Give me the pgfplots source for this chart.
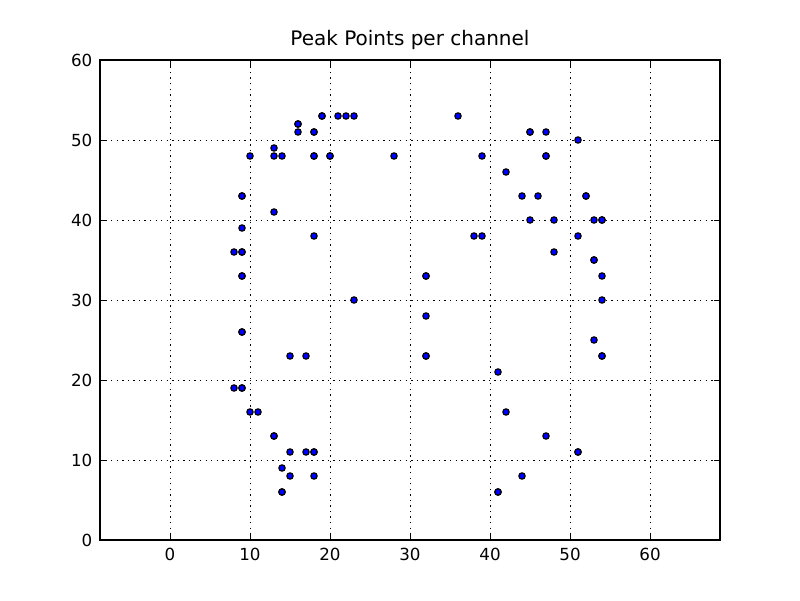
\documentclass[border=0pt]{standalone}
\usepackage{fontspec}
\setmainfont{DejaVu Sans}
\usepackage{pgfplots}
\pgfplotsset{compat=1.18}
\begin{document}
\begin{tikzpicture}
\path[use as bounding box] (-72pt,-43.2pt) rectangle (504pt,388.8pt);
\begin{axis}[
  at={(0,0)}, anchor=south west,
  scale only axis, width=446.4pt, height=345.6pt,
  xmin=-8.75, xmax=68.75, ymin=0, ymax=60,
  xtick={0,10,20,30,40,50,60}, ytick={0,10,20,30,40,50,60},
  tick align=inside, tick pos=both,
  major tick length=4pt,
  every tick/.style={black, line width=0.5pt},
  axis line style={line width=0.8pt},
  grid=major,
  major grid style={black, line width=0.5pt, dash pattern=on 1pt off 3pt},
  /pgf/number format/assume math mode=true,
  tick label style={font=\fontsize{12pt}{14pt}\selectfont},
  title={Peak Points per channel},
  title style={font=\fontsize{14.4pt}{17pt}\selectfont, yshift=-2pt},
  xticklabel style={yshift=-2pt},
  yticklabel style={xshift=-2pt},
]
\addplot[only marks, mark=*, mark size=2.3pt, mark options={fill=blue, draw=black, line width=0.8pt}] coordinates {
(9,43)(9,43)(10,48)(13,49)(13,48)(14,48)(16,52)(16,52)(16,51)(18,51)(18,51)(18,48)(18,48)
(19,53)(19,53)(20,48)(20,48)(21,53)(22,53)(23,53)(28,48)(36,53)(39,48)
(45,51)(45,51)(47,51)(47,48)(47,48)(51,50)(42,46)(44,43)(46,43)(52,43)(52,43)
(45,40)(48,40)(53,40)(54,40)(54,40)(38,38)(39,38)(51,38)(48,36)(53,35)(53,35)
(54,33)(54,30)(53,25)(54,23)(54,23)(41,21)(42,16)(47,13)(51,11)(51,11)(44,8)(41,6)(41,6)
(32,33)(32,33)(32,28)(32,23)(32,23)(23,30)(18,38)(13,41)(9,39)(8,36)(9,36)(9,36)
(9,33)(9,33)(9,26)(9,26)(15,23)(17,23)(8,19)(9,19)(9,19)(10,16)(11,16)(13,13)(13,13)
(15,11)(17,11)(18,11)(18,11)(14,9)(15,8)(18,8)(14,6)(14,6)
};
\end{axis}
\end{tikzpicture}
\end{document}
